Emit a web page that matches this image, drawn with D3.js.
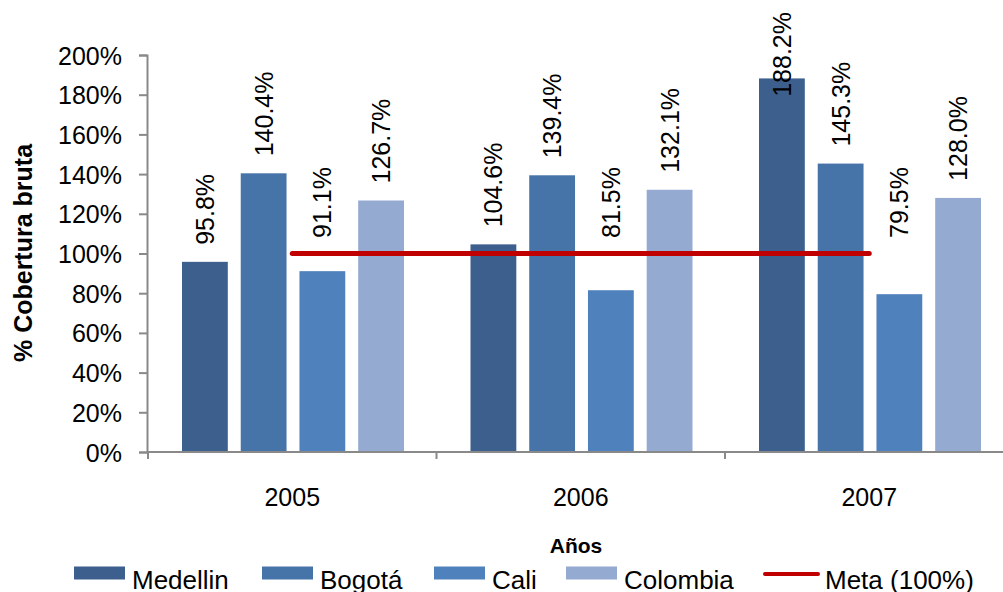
<!DOCTYPE html>
<html><head><meta charset="utf-8">
<script src="https://cdn.jsdelivr.net/npm/d3@7"></script>
<style>
html,body{margin:0;padding:0;background:#fff;}
svg{display:block;}
text{font-family:"Liberation Sans",Arial,sans-serif;fill:#000;}
</style></head>
<body>
<svg id="c" width="1003" height="592"></svg>
<script>
const years = ["2005","2006","2007"];
const seriesNames = ["Medellin","Bogotá","Cali","Colombia"];
const medellin = [95.8, 104.6, 188.2];
const bogota = [140.4, 139.4, 145.3];
const cali = [91.1, 81.5, 79.5];
const colombia = [126.7, 132.1, 128.0];
const meta = [100, 100, 100];
const yTicks = [0,20,40,60,80,100,120,140,160,180,200];
const colors = ["#3C5F8D","#4673A8","#4F81BD","#95AAD1"];
const metaColor = "#C00000";
const metaName = "Meta (100%)";

const seriesVals = [medellin, bogota, cali, colombia];
const svg = d3.select("#c");

const x0 = d3.scaleBand().domain(years).range([148, 1013.5]).padding(0);
const x1 = d3.scaleBand().domain(seriesNames).range([34, 256]).paddingInner(0.22);
const y = d3.scaleLinear().domain([0, 200]).range([452, 55]);

const axisColor = "#898989";

// y axis
const yAxis = svg.append("g").attr("transform","translate(147,0)")
  .call(d3.axisLeft(y).tickValues(yTicks).tickSize(8).tickPadding(17).tickFormat(d => d + "%"));
yAxis.select(".domain").attr("stroke", axisColor).attr("stroke-width", 2);
yAxis.selectAll(".tick line").attr("stroke", axisColor).attr("stroke-width", 2);
yAxis.selectAll(".tick text").attr("font-size", 25).attr("font-family", "Liberation Sans, Arial, sans-serif").attr("fill","#000").attr("dy","0.36em");

// bars
years.forEach((yr, i) => {
  const g = svg.append("g").attr("transform", `translate(${x0(yr)},0)`);
  seriesNames.forEach((s, j) => {
    const v = seriesVals[j][i];
    g.append("rect")
      .attr("x", x1(s)).attr("width", x1.bandwidth())
      .attr("y", y(v)).attr("height", y(0) - y(v))
      .attr("fill", colors[j]);
  });
});

// x axis
const xAxisG = svg.append("g").attr("transform","translate(0,452)");
xAxisG.append("line").attr("x1",147).attr("x2",1003).attr("y1",0).attr("y2",0)
  .attr("stroke", axisColor).attr("stroke-width", 2);
const bounds = years.map(d => x0(d)).concat([x0.range()[1]]);
xAxisG.selectAll("line.tk").data(bounds).join("line").attr("class","tk")
  .attr("x1", d => d).attr("x2", d => d).attr("y1", 0).attr("y2", 7)
  .attr("stroke", axisColor).attr("stroke-width", 2);
xAxisG.selectAll("text").data(years).join("text")
  .attr("x", d => x0(d) + x0.bandwidth()/2).attr("y", 54)
  .attr("text-anchor","middle").attr("font-size",25).text(d => d);

// meta line
const line = d3.line().x((d,i) => x0(years[i]) + x0.bandwidth()/2).y(d => y(d));
svg.append("path").datum(meta).attr("d", line)
  .attr("fill","none").attr("stroke", metaColor).attr("stroke-width", 5).attr("stroke-linecap","round");

// data labels
const metaY = y(meta[0]);
years.forEach((yr, i) => {
  seriesNames.forEach((s, j) => {
    const v = seriesVals[j][i];
    const cx = x0(yr) + x1(s) + x1.bandwidth()/2;
    const t = svg.append("text").attr("font-size", 25).attr("text-anchor","start")
      .text(v.toFixed(1) + "%");
    const len = t.node().getComputedTextLength();
    let bottom = y(v) - 17;
    if (bottom > metaY - 8) bottom = metaY - 15.5;
    bottom = Math.max(bottom, 12 + len);
    t.attr("transform", `translate(${cx},${bottom}) rotate(-90)`).attr("dy","0.36em");
  });
});

// axis titles
svg.append("text").attr("transform","translate(23,253) rotate(-90)")
  .attr("text-anchor","middle").attr("dy","0.36em").attr("font-size",25).attr("font-weight","bold")
  .text("% Cobertura bruta");
svg.append("text").attr("x",576).attr("y",553).attr("text-anchor","middle")
  .attr("font-family","Lato, 'Open Sans', sans-serif").attr("font-weight","bold").attr("font-size",21)
  .text("Años");

// legend
const legX = [74, 262, 434, 566, 765];
const legItems = seriesNames.map((s,j) => ({name:s, color:colors[j], type:"rect"}))
  .concat([{name: metaName, color: metaColor, type:"line"}]);
legItems.forEach((it, k) => {
  const gx = legX[k];
  if (it.type === "rect") {
    svg.append("rect").attr("x", gx).attr("y", 566.5).attr("width", 51).attr("height", 13).attr("fill", it.color);
  } else {
    svg.append("line").attr("x1", gx).attr("x2", gx + 53).attr("y1", 574).attr("y2", 574)
      .attr("stroke", it.color).attr("stroke-width", 4).attr("stroke-linecap","round");
  }
  svg.append("text").attr("x", gx + (it.type === "rect" ? 58 : 60)).attr("y", 589).attr("font-size", 26).text(it.name);
});
</script>
</body></html>
